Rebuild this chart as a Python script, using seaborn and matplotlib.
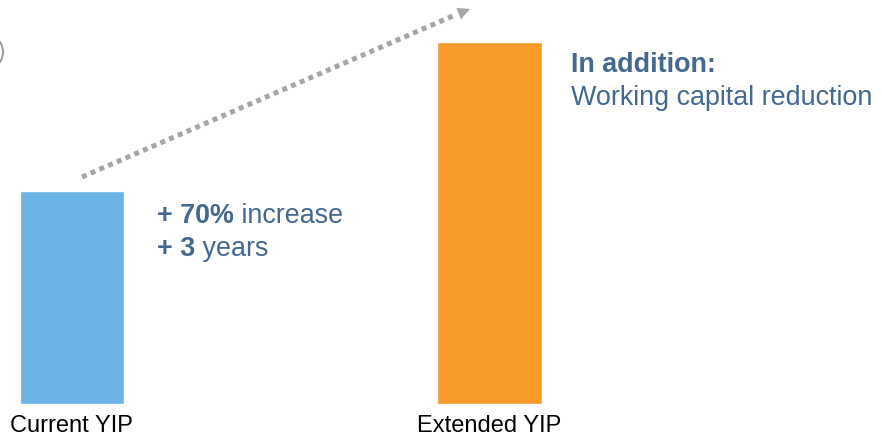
import matplotlib
matplotlib.use("Agg")
import matplotlib.pyplot as plt
import seaborn as sns
import pandas as pd
from matplotlib.patches import Ellipse, FancyArrowPatch

# data
categories = ["Current YIP", "Extended YIP"]
values = [1.0, 1.7]
bar_colors = ["#69B3E7", "#F89A29"]

sns.set_style("white")
plt.rcParams["font.family"] = ["Liberation Sans", "DejaVu Sans"]

W, H = 882, 437
fig = plt.figure(figsize=(W / 100, H / 100), dpi=100)
ax = fig.add_axes([0, 33 / H, 1, 404 / H])

df = pd.DataFrame({"cat": categories, "val": values})
sns.barplot(data=df, x="cat", y="val", hue="cat", palette=bar_colors,
            width=0.25, legend=False, ax=ax, saturation=1)

ax.set_xlim(-0.172, 1.94)
ax.set_ylim(0, 1.898)
sns.despine(ax=ax, left=True, bottom=True)
ax.set_yticks([])
ax.set_xlabel("")
ax.set_ylabel("")
ax.tick_params(axis="x", length=0, pad=8, labelsize=17, labelcolor="black")


def px(x, y):
    return x / W, 1 - y / H


# dotted trend arrow
grey = "#A6A6A6"
x0, y0 = px(82, 177)
x1, y1 = px(455, 15)
x2, y2 = px(470, 9)
fig.add_artist(plt.Line2D([x0, x1], [y0, y1], transform=fig.transFigure,
                          color=grey, lw=3.6, dashes=(1, 0.9),
                          dash_capstyle="butt"))
fig.add_artist(FancyArrowPatch(
    (x1, y1), (x2, y2), transform=fig.transFigure, arrowstyle="-|>",
    mutation_scale=22, color=grey, lw=0, shrinkA=0, shrinkB=0))

# partial circle at the left edge
fig.add_artist(Ellipse(px(-15, 52), 36 / W, 36 / H, transform=fig.transFigure,
                       fill=False, ec="#A0A0A0", lw=1.5))

txt = "#44688F"
fs = 19.4


def mixed(xy, bold, rest):
    t = fig.text(*px(*xy), bold, fontsize=fs, fontweight="bold", color=txt,
                 va="center", ha="left")
    ax.annotate(rest, xy=(1, 0), xycoords=t, va="bottom", ha="left",
                fontsize=fs, color=txt, annotation_clip=False)


mixed((157, 216), "+ 70%", " increase")
mixed((157, 249), "+ 3", " years")

fig.text(*px(571, 65), "In addition:", fontsize=fs, fontweight="bold",
         color=txt, va="center", ha="left")
fig.text(*px(571, 98), "Working capital reduction", fontsize=fs,
         color=txt, va="center", ha="left")

fig.savefig("out.png", dpi=100)
